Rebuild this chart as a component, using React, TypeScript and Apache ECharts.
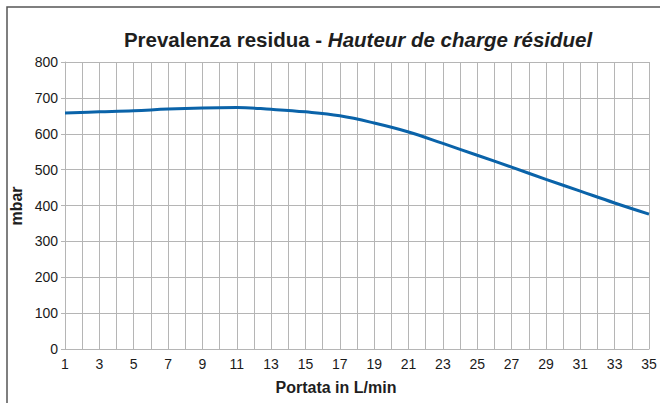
import React, { useEffect, useRef } from "react";
import * as echarts from "echarts";

const flowRates = [1, 3, 5, 7, 9, 11, 13, 15, 17, 19, 21, 23, 25, 27, 29, 31, 33, 35];
const pressures = [658, 661, 664, 669, 672, 673, 668, 661, 650, 630, 605, 573, 540, 507, 473, 440, 407, 376];
const yTicks = [0, 100, 200, 300, 400, 500, 600, 700, 800];
const titleMain = "Prevalenza residua - ";
const titleItalic = "Hauteur de charge résiduel";
const xName = "Portata in L/min";
const yName = "mbar";

export default function App() {
  const ref = useRef<HTMLDivElement>(null);
  useEffect(() => {
    if (!ref.current) return;
    const chart = echarts.init(ref.current, null, { renderer: "svg" });
    const font = "'Liberation Sans', Arial, Helvetica, sans-serif";
    const gridColor = "#b5b5b5";
    chart.setOption({
      animation: false,
      backgroundColor: "#ffffff",
      textStyle: { fontFamily: font },
      grid: { left: 65, top: 62, right: 11, bottom: 54, containLabel: false },
      xAxis: {
        type: "value",
        min: 1,
        max: 35,
        interval: 1,
        axisLine: { show: true, lineStyle: { color: gridColor, width: 1 } },
        axisTick: { show: false },
        splitLine: { show: true, lineStyle: { color: gridColor, width: 1 } },
        axisLabel: {
          color: "#1a1a1a",
          fontSize: 14,
          fontFamily: font,
          margin: 8,
          showMinLabel: true,
          showMaxLabel: true,
          formatter: (v: number) => (flowRates.includes(v) ? String(v) : ""),
        },
      },
      yAxis: {
        type: "value",
        min: yTicks[0],
        max: yTicks[yTicks.length - 1],
        interval: 100,
        axisLine: { show: true, lineStyle: { color: gridColor, width: 1 } },
        axisTick: { show: true, length: 4, lineStyle: { color: gridColor } },
        splitLine: { show: true, lineStyle: { color: gridColor, width: 1 } },
        axisLabel: { color: "#1a1a1a", fontSize: 14, fontFamily: font, margin: 7 },
      },
      series: [
        {
          type: "line",
          data: flowRates.map((x, i) => [x, pressures[i]]),
          smooth: 0.4,
          showSymbol: false,
          lineStyle: { color: "#0a63a9", width: 3 },
        },
      ],
      graphic: [
        {
          type: "rect",
          shape: { x: 7, y: 7, width: 800, height: 600 },
          style: { fill: "none", stroke: "#555", lineWidth: 1.5 },
          silent: true,
        },
        {
          type: "text",
          x: 358,
          y: 39,
          style: {
            text: "{a|" + titleMain + "}{b|" + titleItalic + "}",
            align: "center",
            verticalAlign: "middle",
            rich: {
              a: { fontSize: 20.5, fontWeight: "bold", fill: "#1e1e1e", fontFamily: font },
              b: { fontSize: 20.5, fontWeight: "bold", fontStyle: "italic", fill: "#1e1e1e", fontFamily: font },
            },
          },
        },
        {
          type: "text",
          x: 336,
          y: 387,
          style: {
            text: xName,
            align: "center",
            verticalAlign: "middle",
            fontSize: 16,
            fontWeight: "bold",
            fill: "#1e1e1e",
            fontFamily: font,
          },
        },
        {
          type: "text",
          x: 16,
          y: 206,
          rotation: Math.PI / 2,
          style: {
            text: yName,
            align: "center",
            verticalAlign: "middle",
            fontSize: 16,
            fontWeight: "bold",
            fill: "#1e1e1e",
            fontFamily: font,
          },
        },
      ],
    });
    return () => chart.dispose();
  }, []);
  return <div ref={ref} style={{ width: 660, height: 403, position: "fixed", left: 0, top: 0 }} />;
}
